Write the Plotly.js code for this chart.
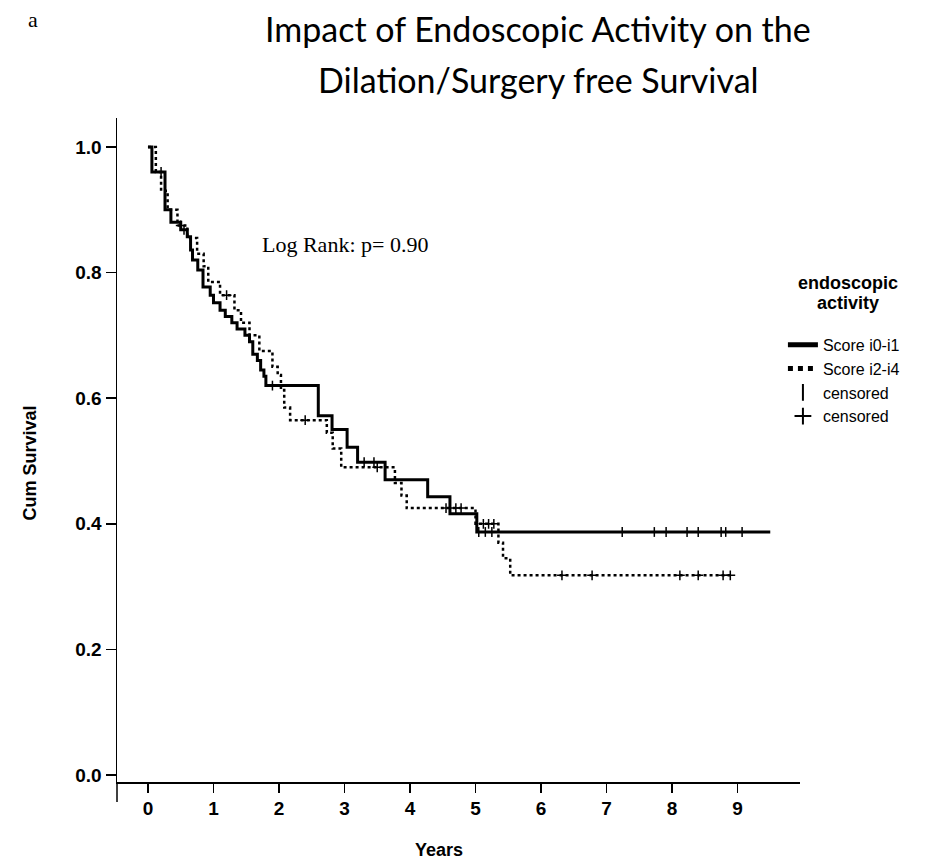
<!DOCTYPE html>
<html>
<head>
<meta charset="utf-8">
<script src="https://cdn.plot.ly/plotly-3.0.1.min.js"></script>
<style>html,body{margin:0;padding:0;background:#fff;}#chart{width:946px;height:864px;}</style>
</head>
<body>
<div id="chart"></div>
<script>
// Score i0-i1 (solid) step curve
const solidT = [0, 0.06, 0.26, 0.35, 0.5, 0.6, 0.65, 0.68, 0.76, 0.84, 0.95, 1.0, 1.1, 1.18, 1.28, 1.36, 1.48, 1.55, 1.6, 1.67, 1.72, 1.77, 1.8, 2.6, 2.81, 3.04, 3.2, 3.62, 4.27, 4.61, 5.02, 9.5];
const solidS = [1.0, 0.96, 0.90, 0.88, 0.868, 0.857, 0.836, 0.82, 0.804, 0.777, 0.764, 0.752, 0.74, 0.73, 0.72, 0.71, 0.70, 0.69, 0.67, 0.66, 0.645, 0.635, 0.62, 0.572, 0.55, 0.522, 0.498, 0.47, 0.443, 0.416, 0.387, 0.387];
// Score i2-i4 (dotted) step curve
const dotT = [0, 0.12, 0.2, 0.3, 0.45, 0.6, 0.75, 0.85, 0.92, 1.1, 1.32, 1.42, 1.55, 1.7, 1.9, 1.98, 2.03, 2.08, 2.17, 2.73, 2.82, 2.95, 3.77, 3.87, 3.95, 5.0, 5.35, 5.42, 5.53, 8.93];
const dotS = [1.0, 0.96, 0.93, 0.90, 0.875, 0.855, 0.83, 0.81, 0.785, 0.764, 0.74, 0.72, 0.70, 0.675, 0.65, 0.637, 0.613, 0.585, 0.565, 0.545, 0.52, 0.49, 0.465, 0.445, 0.425, 0.40, 0.37, 0.345, 0.318, 0.318];
// censored observations
const censSolidT = [0.2, 0.55, 1.9, 3.3, 3.45, 5.05, 5.15, 5.25, 7.24, 7.73, 7.91, 8.23, 8.40, 8.75, 8.82, 9.07];
const censSolidS = [0.96, 0.868, 0.62, 0.498, 0.498, 0.387, 0.387, 0.387, 0.387, 0.387, 0.387, 0.387, 0.387, 0.387, 0.387, 0.387];
const censDotT = [0.5, 1.2, 2.4, 3.5, 4.55, 4.7, 4.78, 5.12, 5.2, 5.28, 6.32, 6.78, 8.12, 8.40, 8.78, 8.89];
const censDotS = [0.875, 0.764, 0.565, 0.49, 0.425, 0.425, 0.425, 0.40, 0.40, 0.40, 0.318, 0.318, 0.318, 0.318, 0.318, 0.318];
const xTicks = [0, 1, 2, 3, 4, 5, 6, 7, 8, 9];
const yTicks = [0.0, 0.2, 0.4, 0.6, 0.8, 1.0];
const yTickText = ['0.0', '0.2', '0.4', '0.6', '0.8', '1.0'];

const legFont = {family: 'Liberation Sans, Arial, sans-serif', size: 16, color: '#000'};
const traces = [
  {x: solidT, y: solidS, mode: 'lines', line: {shape: 'hv', color: '#000', width: 3}, name: 'Score i0-i1'},
  {x: dotT, y: dotS, mode: 'lines', line: {shape: 'hv', color: '#000', width: 2.5, dash: 'dot'}, name: 'Score i2-i4'},
  {x: censSolidT, y: censSolidS, mode: 'markers', marker: {symbol: 'line-ns-open', size: 7, color: '#000', line: {width: 1.5, color: '#000'}}, name: 'censored'},
  {x: censDotT, y: censDotS, mode: 'markers', marker: {symbol: 'cross-thin-open', size: 7, color: '#000', line: {width: 1.5, color: '#000'}}, name: 'censored'}
];

const tickFont = {family: 'Liberation Sans, Arial, sans-serif', size: 19, color: '#000', weight: 'bold'};
const legTitleFont = {family: 'Liberation Sans, Arial, sans-serif', size: 18, color: '#000'};
const layout = {
  width: 946, height: 864,
  paper_bgcolor: '#fff', plot_bgcolor: '#fff',
  margin: {l: 117, r: 146, t: 118, b: 82},
  showlegend: true,
  legend: {
    x: 0.975, xanchor: 'left', y: 0.684, yanchor: 'top',
    font: legFont, tracegroupgap: 0, itemwidth: 30, itemsizing: 'constant',
    bgcolor: 'rgba(0,0,0,0)'
  },
  xaxis: {
    range: [-0.473, 9.954], tickvals: xTicks, ticktext: xTicks.map(String),
    showgrid: false, zeroline: false, showline: true, linecolor: '#000', linewidth: 1.5,
    ticks: 'outside', ticklen: 9, tickwidth: 1.5, tickcolor: '#000', tickfont: tickFont
  },
  yaxis: {
    range: [-0.011, 1.046], tickvals: yTicks, ticktext: yTickText,
    showgrid: false, zeroline: false, showline: true, linecolor: '#000', linewidth: 1.5,
    ticks: 'outside', ticklen: 10, tickwidth: 1.5, tickcolor: '#000', tickfont: tickFont
  },
  shapes: [
    {type: 'line', xref: 'paper', yref: 'paper', x0: 0, x1: 0, y0: 0, y1: -0.03, line: {color: '#000', width: 1.5}}
  ],
  annotations: [
    {text: 'a', xref: 'paper', yref: 'paper', x: -0.123, y: 1.148, xanchor: 'center', yanchor: 'middle', showarrow: false, font: {family: 'Liberation Serif, serif', size: 22, color: '#000'}},
    {text: 'Impact of Endoscopic Activity on the', xref: 'paper', yref: 'paper', x: 0.617, y: 1.135, xanchor: 'center', yanchor: 'middle', showarrow: false, font: {family: 'Lato, sans-serif', size: 34, color: '#000'}},
    {text: 'Dilation/Surgery free Survival', xref: 'paper', yref: 'paper', x: 0.617, y: 1.058, xanchor: 'center', yanchor: 'middle', showarrow: false, font: {family: 'Lato, sans-serif', size: 34, color: '#000'}},
    {text: '<b>endoscopic</b>', xref: 'paper', yref: 'paper', x: 1.07, y: 0.7515, xanchor: 'center', yanchor: 'middle', showarrow: false, font: legTitleFont},
    {text: '<b>activity</b>', xref: 'paper', yref: 'paper', x: 1.07, y: 0.7214, xanchor: 'center', yanchor: 'middle', showarrow: false, font: legTitleFont},
    {text: 'Log Rank: p= 0.90', xref: 'x', yref: 'y', x: 1.71, y: 0.844, xanchor: 'left', yanchor: 'middle', showarrow: false, font: {family: 'Liberation Serif, serif', size: 22, color: '#000'}},
    {text: '<b>Cum Survival</b>', xref: 'paper', yref: 'paper', x: -0.127, y: 0.48, textangle: -90, xanchor: 'center', yanchor: 'middle', showarrow: false, font: {family: 'Liberation Sans, Arial, sans-serif', size: 18, color: '#000'}},
    {text: '<b>Years</b>', xref: 'paper', yref: 'paper', x: 0.472, y: -0.103, xanchor: 'center', yanchor: 'middle', showarrow: false, font: {family: 'Liberation Sans, Arial, sans-serif', size: 18, color: '#000'}}
  ]
};
Plotly.newPlot('chart', traces, layout, {displayModeBar: false, staticPlot: true});
</script>
</body>
</html>
